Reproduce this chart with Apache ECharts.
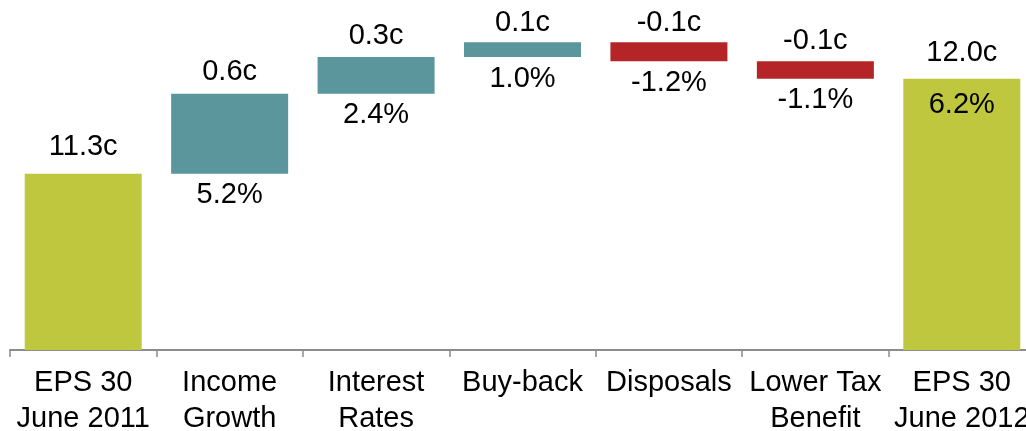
<!DOCTYPE html>
<html>
<head>
<meta charset="utf-8">
<script src="https://cdn.jsdelivr.net/npm/echarts@6/dist/echarts.min.js"></script>
<style>
html,body{margin:0;padding:0;background:#fff;}
#chart{width:1026px;height:431px;}
</style>
</head>
<body>
<div id="chart"></div>
<script>
var categories = ['EPS 30\nJune 2011', 'Income\nGrowth', 'Interest\nRates', 'Buy-back', 'Disposals', 'Lower Tax\nBenefit', 'EPS 30\nJune 2012'];
var startEPS = 11.3;
var changes = [0.59, 0.27, 0.11, -0.14, -0.13];
var endEPS = 12.0;
var topLabels = ['11.3c', '0.6c', '0.3c', '0.1c', '-0.1c', '-0.1c', '12.0c'];
var pctLabels = ['', '5.2%', '2.4%', '1.0%', '-1.2%', '-1.1%', '6.2%'];

var GREEN = '#BFC73E', TEAL = '#5B969C', RED = '#B52427';

// build waterfall pieces
var base = [0], visible = [startEPS], colors = [GREEN], pctAnchor = [null];
var running = startEPS;
changes.forEach(function (c) {
  var next = running + c;
  base.push(Math.min(running, next));
  visible.push(Math.abs(c));
  colors.push(c >= 0 ? TEAL : RED);
  pctAnchor.push(Math.min(running, next));
  running = next;
});
base.push(0); visible.push(endEPS); colors.push(GREEN); pctAnchor.push(endEPS);

var topDist = [12, 7, 7, 5, 5, 6, 11];
var font = 'Liberation Sans, Arial, sans-serif';

var chart = echarts.init(document.getElementById('chart'));
chart.setOption({
  animation: false,
  grid: { left: 10, width: 1025, top: 11, bottom: 81, outerBoundsMode: 'none', containLabel: false },
  xAxis: {
    type: 'category',
    data: categories,
    axisLine: { lineStyle: { color: '#8c8c8c', width: 2 } },
    axisTick: { show: true, length: 7, lineStyle: { color: '#8c8c8c', width: 1.5 } },
    axisLabel: { color: '#000', fontSize: 29, lineHeight: 36, margin: 15, fontFamily: font, interval: 0, hideOverlap: false }
  },
  yAxis: {
    type: 'value', min: 10, max: 12.5, show: false, splitLine: { show: false }
  },
  series: [
    {
      type: 'bar', stack: 'w', barWidth: 117, silent: true,
      itemStyle: { color: 'transparent' },
      data: base
    },
    {
      type: 'bar', stack: 'w', barWidth: 117,
      data: visible.map(function (v, i) {
        return {
          value: v,
          itemStyle: { color: colors[i] },
          label: { show: true, position: 'top', distance: topDist[i], formatter: topLabels[i], color: '#000', fontSize: 29, fontFamily: font }
        };
      })
    },
    {
      type: 'scatter', symbolSize: 0, silent: true,
      itemStyle: { opacity: 1, color: '#000' },
      data: pctAnchor.map(function (v, i) {
        if (v === null) return { value: '-' };
        return {
          value: v,
          label: { show: true, position: 'bottom', distance: i === 6 ? 12 : 7, formatter: pctLabels[i], color: '#000', opacity: 1, fontSize: 29, fontFamily: font }
        };
      })
    }
  ]
});
</script>
</body>
</html>
